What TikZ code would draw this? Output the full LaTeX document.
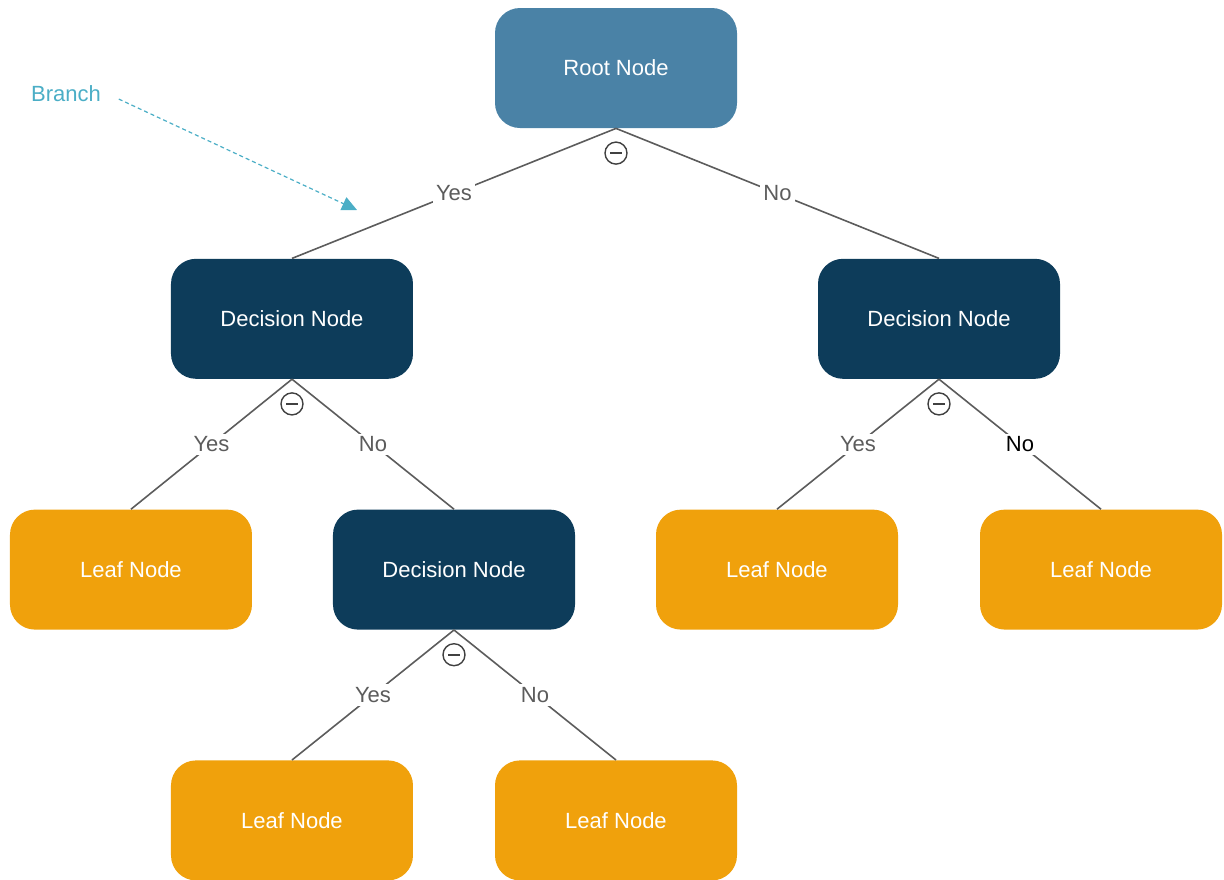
\documentclass[tikz,border=0pt]{standalone}
\usepackage{fontspec}
\setmainfont{Liberation Sans}
\usetikzlibrary{arrows.meta,positioning}
\definecolor{rootblue}{HTML}{4A82A6}
\definecolor{decnavy}{HTML}{0D3C5A}
\definecolor{leaforange}{HTML}{F0A10C}
\definecolor{branchteal}{HTML}{4BAEC6}
\definecolor{edgegray}{HTML}{5C5C5C}
\tikzset{
  tree/.style={rounded corners=12.5pt,minimum width=121pt,minimum height=60pt,
    align=center,font=\fontsize{11}{13}\selectfont,text=white},
  rootnode/.style={tree,fill=rootblue},
  decision/.style={tree,fill=decnavy},
  leaf/.style={tree,fill=leaforange},
  edge/.style={draw=edgegray,line width=0.8pt},
  answer/.style={fill=white,text=edgegray,inner sep=1.5pt,font=\fontsize{11}{13}\selectfont},
  toggle/.style={circle,draw=edgegray!70!black,line width=0.7pt,minimum size=11pt,inner sep=0pt,fill=white,
    path picture={\draw[edgegray!70!black,line width=0.8pt]
      ([xshift=-2.8pt]path picture bounding box.center)--([xshift=2.8pt]path picture bounding box.center);}},
  pointer/.style={-{Triangle[length=7.5pt,width=7pt]},branchteal,line width=0.6pt,
    dash pattern=on 2pt off 1.5pt}
}
\begin{document}
\begin{tikzpicture}[node distance=65pt]
\useasboundingbox (-308pt,34pt) rectangle (304pt,-405.5pt);
\node[rootnode] (root) {Root Node};
\node[decision,below=of root,xshift=-162pt] (decL) {Decision Node};
\node[decision,below=of root,xshift=161.5pt] (decR) {Decision Node};
\node[leaf,below=of decL,xshift=-80.5pt] (leafA) {Leaf Node};
\node[decision,below=of decL,xshift=81pt] (decM) {Decision Node};
\node[leaf,below=of decR,xshift=-81pt] (leafB) {Leaf Node};
\node[leaf,below=of decR,xshift=81pt] (leafC) {Leaf Node};
\node[leaf,below=of decM,xshift=-81pt] (leafD) {Leaf Node};
\node[leaf,below=of decM,xshift=81pt] (leafE) {Leaf Node};
% branches
\draw[edge] (root.south) -- node[answer]{Yes} (decL.north);
\draw[edge] (root.south) -- node[answer]{No} (decR.north);
\draw[edge] (decL.south) -- node[answer]{Yes} (leafA.north);
\draw[edge] (decL.south) -- node[answer]{No} (decM.north);
\draw[edge] (decR.south) -- node[answer]{Yes} (leafB.north);
\draw[edge] (decR.south) -- node[answer,text=black]{No} (leafC.north);
\draw[edge] (decM.south) -- node[answer]{Yes} (leafD.north);
\draw[edge] (decM.south) -- node[answer]{No} (leafE.north);
% collapse markers
\node[toggle,below=6.5pt of root.south] (togRoot) {};
\node[toggle,below=6.5pt of decL.south] (togL) {};
\node[toggle,below=6.5pt of decR.south] (togR) {};
\node[toggle,below=6.5pt of decM.south] (togM) {};
% annotation
\node[text=branchteal,font=\fontsize{11}{13}\selectfont] (branch) at (-275pt,-13pt) {Branch};
\coordinate (branchtip) at (-129.5pt,-71pt);
\draw[pointer,shorten <=6pt] (branch.east) -- (branchtip);
\end{tikzpicture}
\end{document}
